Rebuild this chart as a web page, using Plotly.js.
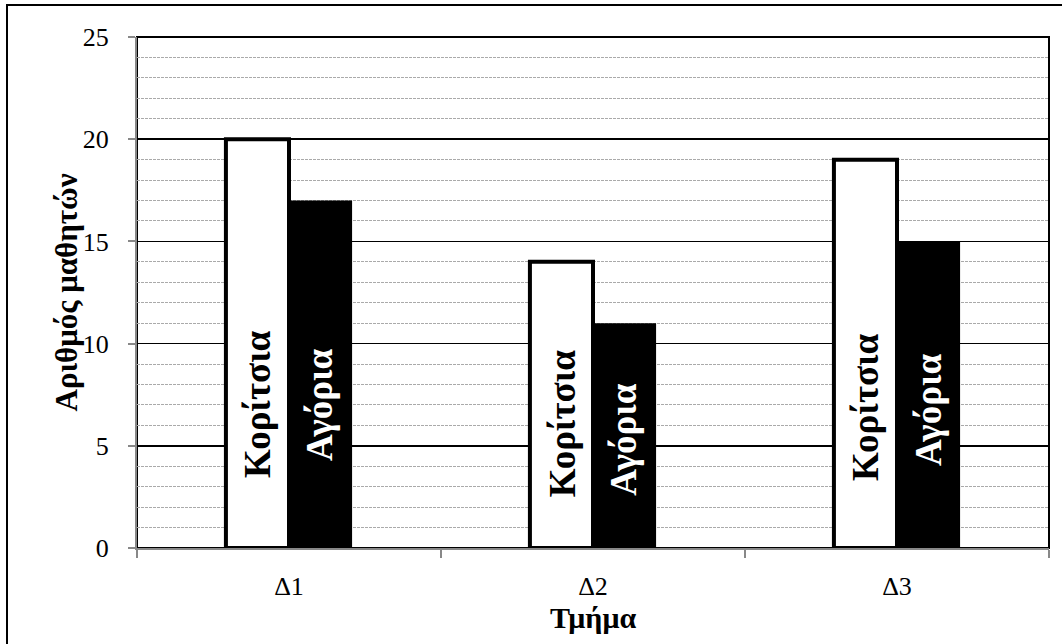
<!DOCTYPE html>
<html><head><meta charset="utf-8">
<script src="https://cdn.plot.ly/plotly-3.0.1.min.js"></script>
<style>html,body{margin:0;padding:0;background:#fff}#chart{width:1062px;height:644px}</style>
</head><body><div id="chart"></div>
<script>
const categories = ['Δ1', 'Δ2', 'Δ3'];
const girls = [20, 14, 19];
const boys = [17, 11, 15];
const girlsName = 'Κορίτσια';
const boysName = 'Αγόρια';
const xTitle = 'Τμήμα';
const yTitle = 'Αριθμός μαθητών';

const FONT = 'Liberation Serif';
const W = 1062, H = 644;
const L = 137, R = 13, T = 37, B = 96;
const pw = W - L - R, ph = H - T - B;

const traces = [
  {type:'bar', x:categories, y:girls, name:girlsName,
   marker:{color:'#ffffff', line:{color:'#000000', width:4}}, hoverinfo:'none'},
  {type:'bar', x:categories, y:boys, name:boysName,
   marker:{color:'#000000', line:{color:'#000000', width:0}}, hoverinfo:'none'}
];

// label centre positions (data units) as seen in the reference
const girlsLabelY = [7.05, 6.1, 6.9];
const boysLabelY = [7.0, 5.3, 6.75];
const annotations = [];
categories.forEach((c, i) => {
  annotations.push({x:c, y:girlsLabelY[i], xref:'x', yref:'y', xshift:-31, text:'<b>'+girlsName+'</b>',
    textangle:-90, showarrow:false, font:{family:FONT, size:37, color:'#000'}});
  annotations.push({x:c, y:boysLabelY[i], xref:'x', yref:'y', xshift:31, text:'<b>'+boysName+'</b>',
    textangle:-90, showarrow:false, font:{family:FONT, size:37, color:'#fff'}});
});
// y-axis title, placed as in the reference
annotations.push({xref:'paper', yref:'paper', x:(66-L)/pw, y:0.5, xanchor:'center', yanchor:'middle',
  text:'<b>'+yTitle+'</b>', textangle:-90, showarrow:false, font:{family:FONT, size:31, color:'#000'}});

const layout = {
  width:W, height:H, margin:{l:L, r:R, t:T, b:B, pad:0},
  paper_bgcolor:'#fff', plot_bgcolor:'#fff',
  showlegend:false, barmode:'group', bargap:0.585, bargroupgap:0,
  font:{family:FONT, color:'#000'},
  xaxis:{type:'category', showgrid:false, zeroline:false,
    showline:true, linecolor:'#888', linewidth:2,
    ticks:'outside', tickson:'boundaries', ticklen:8, tickcolor:'#888', tickwidth:2,
    tickfont:{family:FONT, size:26, color:'#000'}, ticklabelstandoff:14,
    title:{text:'<b>'+xTitle+'</b>', font:{family:FONT, size:30, color:'#000'}, standoff:6}},
  yaxis:{range:[0,25], dtick:5, tick0:0, showgrid:true, gridcolor:'#000', gridwidth:1.5,
    zeroline:false, showline:true, linecolor:'#888', linewidth:2,
    ticks:'outside', ticklen:7, tickcolor:'#888', tickwidth:2,
    tickfont:{family:FONT, size:26, color:'#000'}, ticklabelstandoff:14,
    minor:{dtick:1, showgrid:true, gridcolor:'#aaa', gridwidth:1, griddash:'3px,1px'}},
  annotations: annotations,
  shapes:[
    {type:'rect', xref:'paper', yref:'paper', x0:0, x1:1, y0:0, y1:1,
     line:{color:'#000', width:2}, layer:'below'},
    {type:'rect', xref:'paper', yref:'paper', x0:(7-L)/pw, x1:(W+20-L)/pw, y0:-(H+20-T-ph)/ph, y1:(H-B-5)/ph,
     line:{color:'#000', width:2}, fillcolor:'rgba(0,0,0,0)', layer:'below'}
  ]
};

Plotly.newPlot('chart', traces, layout, {displayModeBar:false, staticPlot:true});
</script></body></html>
